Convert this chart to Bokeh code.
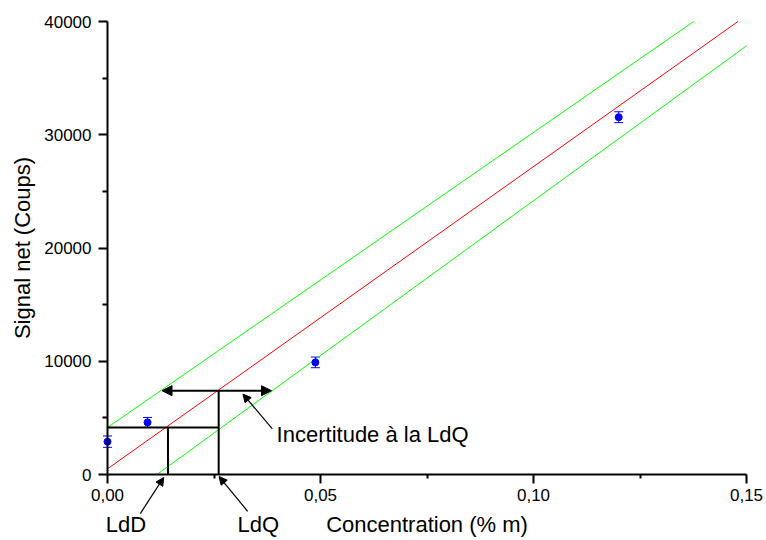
from bokeh.plotting import figure
from bokeh.models import (Range1d, FixedTicker, Whisker, TeeHead, Arrow, NormalHead,
                          Label, ColumnDataSource)
from bokeh.embed import file_html
from bokeh.resources import INLINE

# ---- data ----
conc = [0.0, 0.0094, 0.0488, 0.1200]          # % m
signal = [2900, 4600, 9900, 31550]            # net counts
signal_err = [500, 440, 470, 480]

fit_x = [0.0, 0.148]
fit_y = [500, 40000]
upper_x = [0.0, 0.1376]
upper_y = [4150, 40000]
lower_x = [0.0116, 0.150]
lower_y = [0, 37850]

ldd_x = 0.0142
ldq_x = 0.0261
ldd_signal = 4150
ldq_signal = 7400
unc_left = 0.0128
unc_right = 0.0385

x_ticks = [0.0, 0.05, 0.10, 0.15]
x_tick_labels = ["0,00", "0,05", "0,10", "0,15"]
x_minor = [0.025, 0.075, 0.125]
y_ticks = [0, 10000, 20000, 30000, 40000]
y_tick_labels = ["0", "10000", "20000", "30000", "40000"]
y_minor = [5000, 15000, 25000, 35000]

# annotation anchors (data units; negative signal = below the x axis)
ldd_arrow = dict(x0=0.0077, y0=-3450, x1=0.0132, y1=-260)
ldq_arrow = dict(x0=0.0329, y0=-3250, x1=0.0262, y1=-180)
unc_arrow = dict(x0=0.0387, y0=4030, x1=0.0318, y1=7100)
ldd_text = dict(x=-0.0004, y=-4430)
ldq_text = dict(x=0.0305, y=-4430)
unc_text = dict(x=0.0397, y=3510)

FONT = "Liberation Sans"

# layout: the frame covers the whole canvas; axes are pinned at the origin
W, H = 766, 540
X0_PX, X1_PX = 107, 746        # pixel columns of x = 0 and x = 0.15
Y1_PX, Y0_PX = 21, 474         # pixel rows of y = 40000 and y = 0
x_lo, x_hi = 0.0, 0.15
y_lo, y_hi = 0, 40000
xs = (x_hi - x_lo) / (X1_PX - X0_PX)
ys = (y_hi - y_lo) / (Y0_PX - Y1_PX)

p = figure(width=W, height=H, output_backend="svg", toolbar_location=None,
           x_range=Range1d(x_lo - X0_PX * xs, x_hi + (W - X1_PX) * xs),
           y_range=Range1d(y_lo - (H - Y0_PX) * ys, y_hi + Y1_PX * ys),
           min_border_left=0, min_border_right=0, min_border_top=0,
           min_border_bottom=0)
p.outline_line_color = None
p.xgrid.visible = False
p.ygrid.visible = False

for ax, ticks, minor, labels in [(p.xaxis[0], x_ticks, x_minor, x_tick_labels),
                                  (p.yaxis[0], y_ticks, y_minor, y_tick_labels)]:
    ax.ticker = FixedTicker(ticks=ticks, minor_ticks=minor)
    ax.major_label_overrides = {t: l for t, l in zip(ticks, labels)}
    ax.axis_line_width = 2
    ax.axis_line_color = "black"
    ax.major_tick_line_width = 2
    ax.minor_tick_line_width = 2
    ax.major_tick_line_color = "black"
    ax.minor_tick_line_color = "black"
    ax.major_tick_out = 9
    ax.major_tick_in = 0
    ax.minor_tick_in = 0
    ax.major_label_text_font = FONT
    ax.major_label_text_font_size = "17px"
    ax.major_label_text_color = "black"
    ax.axis_label_text_font = FONT
    ax.axis_label_text_font_size = "22px"
    ax.axis_label_text_font_style = "normal"
    ax.axis_label_text_color = "black"

p.xaxis.fixed_location = y_lo
p.yaxis.fixed_location = x_lo
p.xaxis.bounds = (x_lo, x_hi)
p.yaxis.bounds = (y_lo, y_hi)
p.xaxis.minor_tick_out = 4
p.yaxis.minor_tick_out = 5
p.xaxis.major_label_standoff = 5
p.yaxis.major_label_standoff = 7
p.xaxis.axis_label_standoff = 8
p.yaxis.axis_label_standoff = 6
p.xaxis.axis_label = "Concentration (% m)"
p.yaxis.axis_label = "Signal net (Coups)"

# regression line and bands
p.line(fit_x, fit_y, line_color="#ff0000", line_width=1)
p.line(upper_x, upper_y, line_color="#00ff00", line_width=1)
p.line(lower_x, lower_y, line_color="#00ff00", line_width=1)

# construction lines
p.segment(x0=[0, ldd_x, ldq_x], y0=[ldd_signal, 0, 0],
          x1=[ldq_x, ldd_x, ldq_x], y1=[ldd_signal, ldd_signal, ldq_signal],
          line_color="black", line_width=2)

p.add_layout(Arrow(x_start=unc_left, y_start=ldq_signal, x_end=unc_right, y_end=ldq_signal,
                   line_color="black", line_width=2,
                   start=NormalHead(size=10, fill_color="black", line_color="black"),
                   end=NormalHead(size=10, fill_color="black", line_color="black")))

for a in (ldd_arrow, ldq_arrow, unc_arrow):
    p.add_layout(Arrow(x_start=a["x0"], y_start=a["y0"], x_end=a["x1"], y_end=a["y1"],
                       line_color="black", line_width=1.2,
                       end=NormalHead(size=8, fill_color="black", line_color="black")))

for t, pos in (("LdD", ldd_text), ("LdQ", ldq_text), ("Incertitude à la LdQ", unc_text)):
    p.add_layout(Label(x=pos["x"], y=pos["y"], text=t, text_font=FONT,
                       text_font_size="22px", text_color="black",
                       text_baseline="alphabetic", text_align="left"))

# data with error bars
src = ColumnDataSource(dict(x=conc, y=signal,
                            lo=[s - e for s, e in zip(signal, signal_err)],
                            hi=[s + e for s, e in zip(signal, signal_err)]))
p.add_layout(Whisker(source=src, base="x", lower="lo", upper="hi",
                     line_color="#0000ff", line_width=1,
                     lower_head=TeeHead(size=9, line_color="#0000ff", line_width=1),
                     upper_head=TeeHead(size=9, line_color="#0000ff", line_width=1)))
p.scatter("x", "y", source=src, size=7, fill_color="#0000ff", line_color="#0000ff")

open("out.html", "w").write(file_html(p, INLINE))
